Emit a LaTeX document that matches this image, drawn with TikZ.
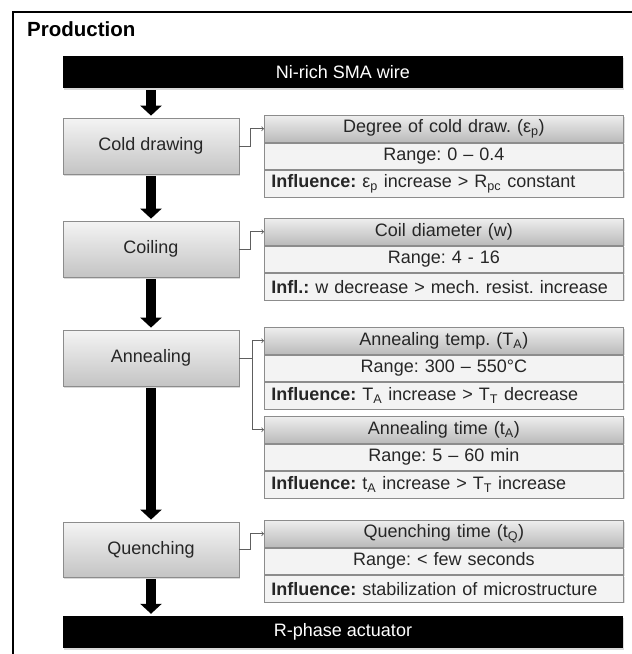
\documentclass[tikz,border=0pt]{standalone}
\usepackage{fontspec}
\setmainfont{Liberation Sans}
\usepackage{tikz}
\usetikzlibrary{positioning}
\usetikzlibrary{arrows.meta}
\usetikzlibrary{shadows}
\frenchspacing
\hyphenpenalty=10000
\definecolor{boxline}{HTML}{8C8C8C}
\definecolor{stageTop}{HTML}{F4F4F4}
\definecolor{stageBot}{HTML}{C4C4C4}
\definecolor{headTop}{HTML}{EEEEEE}
\definecolor{headBot}{HTML}{BABABA}
\definecolor{rowfill}{HTML}{F3F3F3}
\definecolor{textgray}{HTML}{262626}
\definecolor{linkgray}{HTML}{5E5E5E}
\tikzset{
  stage box/.style={draw=boxline,line width=0.8pt,top color=stageTop,bottom color=stageBot,
    minimum width=176pt,minimum height=56pt,inner sep=0pt,text=textgray,font=\fontsize{18}{20}\selectfont,
    drop shadow={shadow xshift=1.2pt,shadow yshift=-1.5pt,opacity=0.3}},
  bar box/.style={fill=black,minimum width=560pt,minimum height=32pt,inner sep=0pt,text=white,
    font=\fontsize{18}{20}\selectfont,drop shadow={shadow xshift=1.2pt,shadow yshift=-1.5pt,opacity=0.3}},
  head row/.style={draw=boxline,line width=0.8pt,top color=headTop,bottom color=headBot,
    minimum height=26.7pt,text width=347pt,inner xsep=6pt,inner ysep=0pt,align=center,
    text=textgray,font=\fontsize{18}{20}\selectfont,
    drop shadow={shadow xshift=1.2pt,shadow yshift=-1.2pt,opacity=0.25}},
  plain row/.style={draw=boxline,line width=0.8pt,fill=rowfill,
    minimum height=26.7pt,text width=347pt,inner xsep=6pt,inner ysep=0pt,align=center,
    text=textgray,font=\fontsize{18}{20}\selectfont,
    drop shadow={shadow xshift=1.2pt,shadow yshift=-1.2pt,opacity=0.25}},
  infl row/.style={plain row,align=left,inner xsep=7pt,text width=345pt},
  flow/.style={line width=10pt,-{Triangle[width=21pt,length=10pt]},shorten <=2pt,shorten >=2pt},
  link/.style={->,draw=linkgray,line width=0.8pt}
}

\begin{document}
\begin{tikzpicture}[x=1pt,y=-1pt,>=to]
        \useasboundingbox (0,0) rectangle (632,654);
        \draw[line width=1.4pt] (13,654) -- (13,12) -- (632,12);
        \node[anchor=base west,inner sep=0pt,font=\fontsize{20.5}{22}\selectfont\bfseries] (title) at (27,36) {Production};

        % process chain
        \node[bar box] (wire) at (343,72) {Ni-rich SMA wire};
        \node[stage box] (cold) at (151,146) {Cold drawing};
        \node[stage box] (coil) at (151,249) {Coiling};
        \node[stage box] (anneal) at (151,358) {Annealing};
        \node[stage box,minimum height=55pt] (quench) at (151,549.5) {Quenching};
        \node[bar box] (actuator) at (343,632) {R-phase actuator};

        % parameter tables
        \node[head row,anchor=north west] (t1) at (264,115) {Degree of cold draw. (ε\textsubscript{p})};
        \node[plain row,below=0pt of t1] (t1r) {Range: 0 – 0.4};
        \node[infl row,below=0pt of t1r] (t1i) {\textbf{Influence:} ε\textsubscript{p} increase > R\textsubscript{pc} constant};

        \node[head row,anchor=north west] (t2) at (264,218) {Coil diameter (w)};
        \node[plain row,below=0pt of t2] (t2r) {Range: 4 - 16};
        \node[infl row,below=0pt of t2r] (t2i) {\textbf{Infl.:} w decrease > mech. resist. increase};

        \node[head row,anchor=north west] (t3) at (264,327) {Annealing temp. (T\textsubscript{A})};
        \node[plain row,below=0pt of t3] (t3r) {Range: 300 – 550°C};
        \node[infl row,below=0pt of t3r] (t3i) {\textbf{Influence:} T\textsubscript{A} increase > T\textsubscript{T} decrease};

        \node[head row,anchor=north west] (t4) at (264,416) {Annealing time (t\textsubscript{A})};
        \node[plain row,below=0pt of t4] (t4r) {Range: 5 – 60 min};
        \node[infl row,below=0pt of t4r] (t4i) {\textbf{Influence:} t\textsubscript{A} increase > T\textsubscript{T} increase};

        \node[head row,anchor=north west] (t5) at (264,520) {Quenching time (t\textsubscript{Q})};
        \node[plain row,below=0pt of t5] (t5r) {Range: < few seconds};
        \node[infl row,below=0pt of t5r] (t5i) {\textbf{Influence:} stabilization of microstructure};

        % thick flow arrows
        \draw[flow] (cold.north |- wire.south) -- (cold.north);
        \draw[flow] (cold) -- (coil);
        \draw[flow] (coil) -- (anneal);
        \draw[flow] (anneal) -- (quench);
        \draw[flow] (quench.south) -- (quench.south |- actuator.north);

        % links to the tables
        \draw[link] (cold.east) -- ++(11,0) |- (t1.west);
        \draw[link] (coil.east) -- ++(11,0) |- (t2.west);
        \draw[link] (anneal.east) -- ++(13,0) coordinate (fork) |- (t3.west);
        \draw[link] (fork) |- (t4.west);
        \draw[link] (quench.east) -- ++(11,0) |- (t5.west);
      \end{tikzpicture}
\end{document}
